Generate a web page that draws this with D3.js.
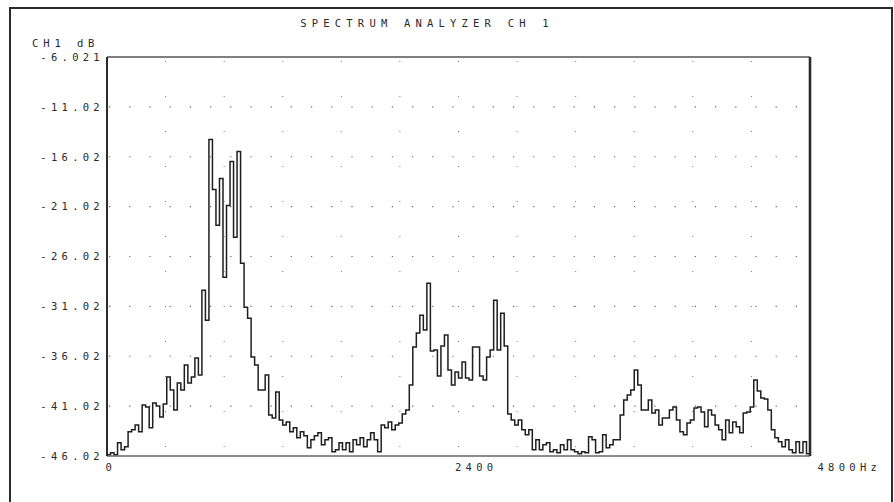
<!DOCTYPE html>
<html>
<head>
<meta charset="utf-8">
<script src="https://cdn.jsdelivr.net/npm/d3@7/dist/d3.min.js"></script>
<style>
  html, body { margin: 0; padding: 0; background: #fff; }
  svg { display: block; }
  text { font-family: "DejaVu Sans Mono", "Liberation Mono", monospace; fill: #2a2a2a; }
</style>
</head>
<body>
<svg id="chart" width="894" height="502"></svg>
<script>
// Analyzer setup
const title = "SPECTRUM ANALYZER CH 1";
const yUnitLabel = "CH1 dB";
const binWidthHz = 24;          // analyzer bin spacing
const spanHz = [0, 4800];
const levelRange = [-46.02, -6.021];

// Y ticks (dB) and their printed labels
const yTicks = [-6.021, -11.02, -16.02, -21.02, -26.02, -31.02, -36.02, -41.02, -46.02];
const yTickLabels = ["-6.021", "-11.02", "-16.02", "-21.02", "-26.02", "-31.02", "-36.02", "-41.02", "-46.02"];

// X ticks (Hz) and their printed labels
const xTicks = [0, 2400, 4800];
const xTickLabels = ["0", "2400", "4800Hz"];

// Vertical grid divisions (Hz)
const xGrid = [400, 800, 1200, 1600, 2000, 2400, 2800, 3200, 3600, 4000, 4400];

// Measured level per bin, dB
const levels = [
  -45.9, -45.7, -45.9, -44.7, -45.4, -45.1, -43.6, -43.4, -42.9, -43.6,
  -40.9, -41.1, -43.2, -40.7, -41.0, -42.1, -40.8, -38.1, -39.4, -41.4,
  -38.7, -39.4, -36.9, -38.7, -38.1, -36.2, -37.9, -29.4, -32.4, -14.3,
  -19.3, -22.9, -18.2, -28.1, -20.9, -16.5, -24.1, -15.5, -26.7, -31.1,
  -32.2, -36.1, -36.9, -39.4, -39.4, -37.9, -41.9, -42.2, -39.6, -42.4,
  -42.9, -42.6, -43.6, -43.2, -44.2, -43.6, -44.0, -45.2, -44.4, -44.0,
  -43.7, -44.9, -44.4, -44.2, -45.6, -45.4, -44.7, -45.4, -44.7, -45.6,
  -44.4, -44.9, -44.2, -45.1, -44.4, -43.7, -44.4, -45.6, -42.9, -43.2,
  -42.6, -43.4, -42.9, -42.7, -41.8, -41.4, -38.9, -35.1, -33.7, -31.9,
  -33.4, -28.7, -35.5, -35.4, -38.0, -35.0, -33.9, -37.4, -38.9, -37.6,
  -38.2, -36.6, -38.2, -38.4, -35.1, -35.1, -38.0, -38.4, -36.1, -35.4,
  -30.4, -35.4, -31.7, -35.0, -41.8, -42.4, -42.9, -42.4, -43.4, -43.9,
  -43.4, -45.4, -44.4, -45.4, -44.9, -44.7, -45.6, -45.4, -45.7, -44.9,
  -45.4, -44.4, -45.4, -45.6, -45.8, -45.6, -45.7, -44.1, -44.4, -45.7,
  -45.6, -43.9, -45.2, -44.9, -44.4, -44.4, -41.9, -40.4, -39.9, -39.4,
  -37.4, -38.9, -41.4, -41.4, -40.4, -41.7, -41.4, -42.9, -42.2, -42.2,
  -41.4, -41.1, -42.4, -43.6, -43.9, -42.7, -42.4, -41.2, -41.1, -41.6,
  -43.1, -41.4, -41.9, -42.9, -43.4, -44.4, -42.4, -43.7, -42.6, -43.1,
  -43.7, -41.7, -41.6, -41.1, -38.4, -39.5, -40.2, -40.3, -41.4, -43.4,
  -44.2, -44.6, -45.1, -44.4, -45.4, -45.7, -44.6, -45.7, -44.6, -45.8
];

const svg = d3.select("#chart");
const plot = { left: 107, top: 57, right: 810, bottom: 456 };

const x = d3.scaleLinear().domain(spanHz).range([plot.left, plot.right]);
const y = d3.scaleLinear().domain(levelRange).range([plot.bottom, plot.top]);

// Outer page frame
svg.append("rect")
  .attr("x", 10).attr("y", 8)
  .attr("width", 882).attr("height", 500)
  .attr("fill", "none").attr("stroke", "#2b2b2b").attr("stroke-width", 2);

// Title
svg.append("text")
  .attr("x", 427).attr("y", 27)
  .attr("text-anchor", "middle")
  .attr("font-size", 10.5)
  .attr("letter-spacing", 5.2)
  .text(title);

// Unit label above the y axis
svg.append("text")
  .attr("x", 32).attr("y", 47)
  .attr("font-size", 10.5)
  .attr("letter-spacing", 4.9)
  .text(yUnitLabel);

// Dotted horizontal grid
svg.append("g")
  .selectAll("line")
  .data(yTicks.slice(1, -1))
  .join("line")
  .attr("x1", plot.left + 2).attr("x2", plot.right - 2)
  .attr("y1", d => y(d)).attr("y2", d => y(d))
  .attr("stroke", "#666")
  .attr("stroke-width", 1.1)
  .attr("stroke-dasharray", "1.2,19");

// Dotted vertical grid
svg.append("g")
  .selectAll("line")
  .data(xGrid)
  .join("line")
  .attr("x1", d => x(d)).attr("x2", d => x(d))
  .attr("y1", plot.top + 4).attr("y2", plot.bottom - 2)
  .attr("stroke", "#777")
  .attr("stroke-width", 1)
  .attr("stroke-dasharray", "1,34");

// Y axis labels
const yAxis = d3.axisLeft(y)
  .tickValues(yTicks)
  .tickFormat((d, i) => yTickLabels[i])
  .tickSize(0)
  .tickPadding(0);
const yg = svg.append("g")
  .attr("transform", `translate(${plot.left - 3},0)`)
  .call(yAxis);
yg.select(".domain").remove();
yg.selectAll("text")
  .attr("font-size", 10.5)
  .attr("letter-spacing", 4.3)
  .attr("fill", "#2a2a2a")
  .style("font-family", "'DejaVu Sans Mono', monospace");

// X axis labels
const xAxis = d3.axisBottom(x)
  .tickValues(xTicks)
  .tickFormat((d, i) => xTickLabels[i])
  .tickSize(0)
  .tickPadding(8);
const xg = svg.append("g")
  .attr("transform", `translate(0,${plot.bottom})`)
  .call(xAxis);
xg.select(".domain").remove();
xg.selectAll("text")
  .attr("text-anchor", "start")
  .attr("dx", (d, i) => [-2, -4, 7][i])
  .attr("font-size", 10.5)
  .attr("letter-spacing", 4.3)
  .attr("fill", "#2a2a2a")
  .style("font-family", "'DejaVu Sans Mono', monospace");

// Spectrum trace (one level per bin, held across the bin)
const points = levels.map((v, i) => [i * binWidthHz, v]);
points.push([spanHz[1], levels[levels.length - 1]]);

const line = d3.line()
  .x(d => x(d[0]))
  .y(d => y(Math.max(levelRange[0], d[1])))
  .curve(d3.curveStepAfter);

svg.append("path")
  .datum(points)
  .attr("d", line)
  .attr("fill", "none")
  .attr("stroke", "#1e1e1e")
  .attr("stroke-width", 1.5)
  .attr("stroke-linejoin", "miter");

// Plot frame
const frame = svg.append("g").attr("fill", "none");
frame.append("line")
  .attr("x1", plot.left).attr("x2", plot.right)
  .attr("y1", plot.top).attr("y2", plot.top)
  .attr("stroke", "#555").attr("stroke-width", 1.5);
frame.append("line")
  .attr("x1", plot.left).attr("x2", plot.right)
  .attr("y1", plot.bottom).attr("y2", plot.bottom)
  .attr("stroke", "#666").attr("stroke-width", 1.3);
frame.append("line")
  .attr("x1", plot.left).attr("x2", plot.left)
  .attr("y1", plot.top).attr("y2", plot.bottom)
  .attr("stroke", "#2b2b2b").attr("stroke-width", 2);
frame.append("line")
  .attr("x1", plot.right).attr("x2", plot.right)
  .attr("y1", plot.top).attr("y2", plot.bottom)
  .attr("stroke", "#2b2b2b").attr("stroke-width", 2.6);
</script>
</body>
</html>
